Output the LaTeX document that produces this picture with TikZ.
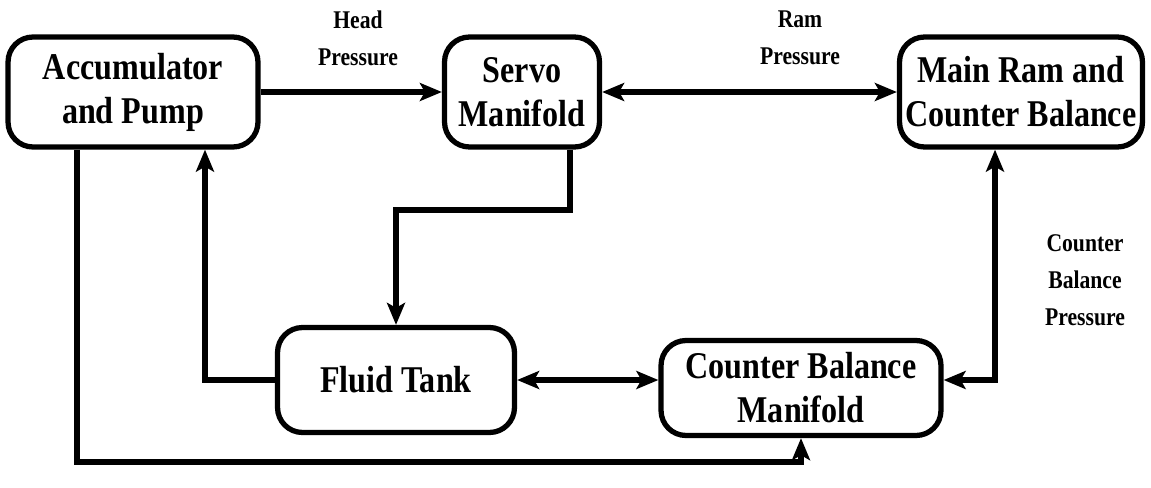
\documentclass[tikz,border=0pt]{standalone}
\usepackage{fontspec}
\setmainfont{Liberation Serif}[FakeStretch=0.85]
\usetikzlibrary{shapes,arrows.meta}

\tikzset{
  unit/.style={draw,line width=3pt,rounded corners=0.5cm,align=center,
    font=\fontsize{21.5}{25}\selectfont\bfseries,inner sep=0pt},
  flow/.style={line width=3pt},
  tag/.style={align=center,font=\fontsize{14.5}{21}\selectfont\bfseries}
}

\begin{document}
\begin{tikzpicture}[x=0.02cm,y=-0.02cm,>={Stealth[length=4.4mm,width=3.6mm,inset=1mm]}]
\useasboundingbox (0,0) rectangle (1151,487);
% blocks
\node[unit,minimum width=5cm,minimum height=2.2cm] (acc) at (133,92) {Accumulator\\and Pump};
\node[unit,minimum width=3.1cm,minimum height=2.2cm] (servo) at (522,92) {Servo\\Manifold};
\node[unit,minimum width=4.86cm,minimum height=2.2cm] (ram) at (1021,92) {Main Ram and\\Counter Balance};
\node[unit,minimum width=4.74cm,minimum height=2.1cm] (tank) at (396,380) {Fluid Tank};
\node[unit,minimum width=5.6cm,minimum height=1.9cm] (cbm) at (801,388) {Counter Balance\\Manifold};
% labels
\node[tag] (head) at (358,38) {Head\\Pressure};
\node[tag] (rp) at (800,38) {Ram\\Pressure};
\node[tag] (cbp) at (1085,280) {Counter\\Balance\\Pressure};
\coordinate (bend) at (0,210);
\coordinate (low) at (0,462);
% connectors
\draw[flow,->] (acc) -- (servo);
\draw[flow,<->] (servo) -- (ram);
\draw[flow,->] ([xshift=0.96cm]servo.south) |- (tank.north |- bend) -- (tank.north);
\draw[flow,->] (tank.west) -| ([xshift=1.44cm]acc.south);
\draw[flow,<->] (tank.east) -- (tank.east -| cbm.west);
\draw[flow,<->] (cbm.east |- tank.east) -| ([xshift=-0.52cm]ram.south);
\draw[flow,->] ([xshift=-1.12cm]acc.south) |- (cbm.south |- low) -- (cbm.south);
\end{tikzpicture}
\end{document}
